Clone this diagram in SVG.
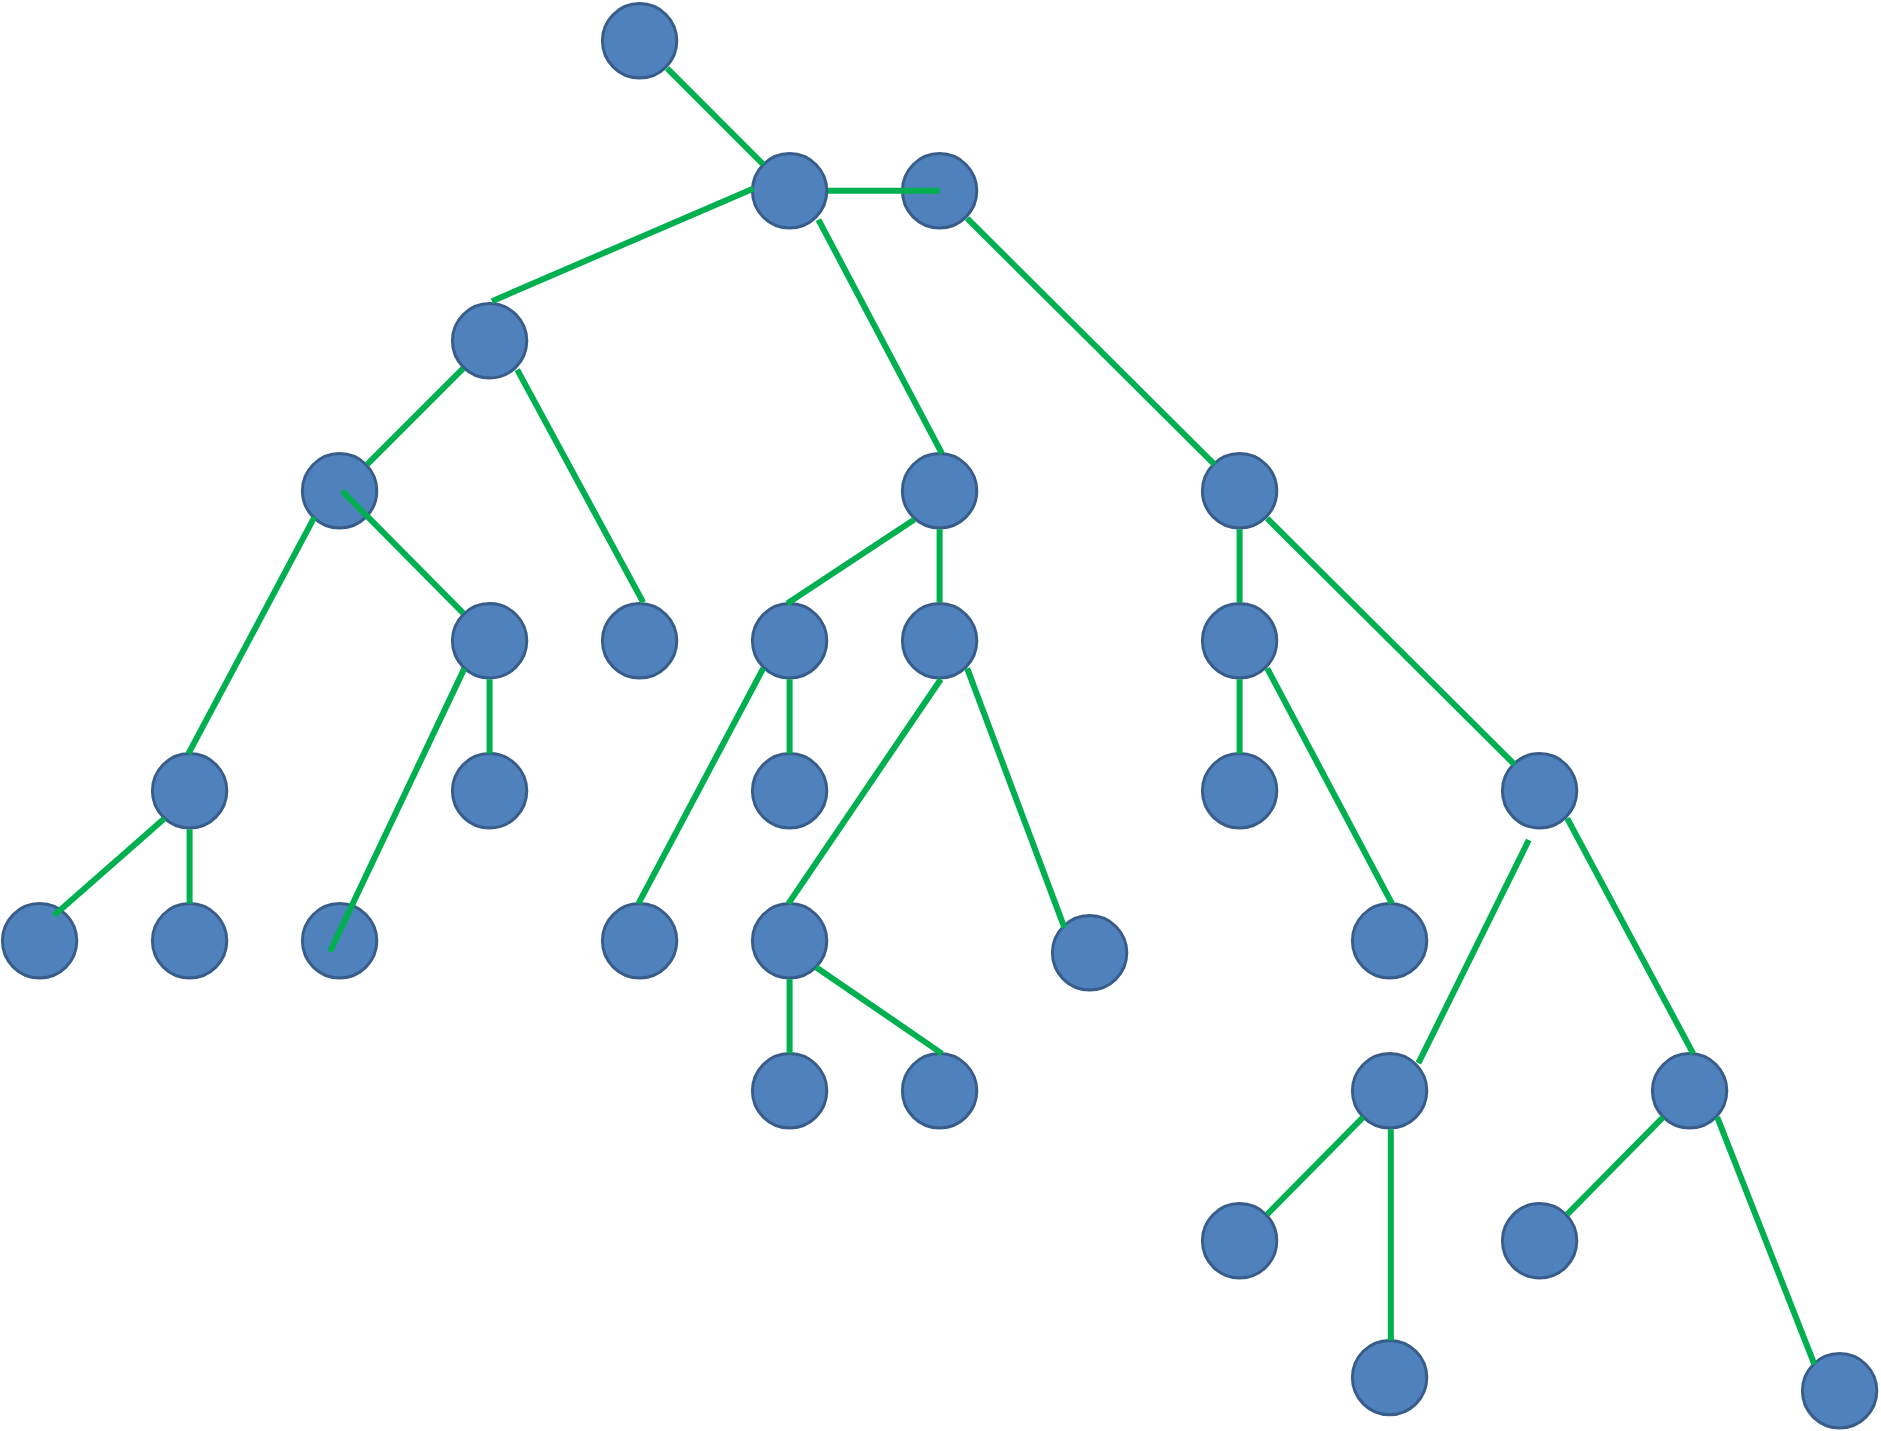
<svg xmlns="http://www.w3.org/2000/svg" width="1881" height="1431" viewBox="0 0 1881 1431">
<style>
.n{fill:#4F81BD;stroke:#385D8A;stroke-width:2.5}
.e{stroke:#00B050;stroke-width:5;fill:none}
</style>
<rect width="1881" height="1431" fill="#fff"/>
<g transform="scale(1.2)">
<g id="nodes">
<g id="n1"><circle class="n" cx="533" cy="34" r="31"/></g>
<g id="n2"><circle class="n" cx="658" cy="159" r="31"/></g>
<g id="n3"><circle class="n" cx="783" cy="159" r="31"/></g>
<g id="n4"><circle class="n" cx="408" cy="284" r="31"/></g>
<g id="n5"><circle class="n" cx="283" cy="409" r="31"/></g>
<g id="n6"><circle class="n" cx="783" cy="409" r="31"/></g>
<g id="n7"><circle class="n" cx="1033" cy="409" r="31"/></g>
<g id="n8"><circle class="n" cx="408" cy="534" r="31"/></g>
<g id="n9"><circle class="n" cx="533" cy="534" r="31"/></g>
<g id="n10"><circle class="n" cx="658" cy="534" r="31"/></g>
<g id="n11"><circle class="n" cx="783" cy="534" r="31"/></g>
<g id="n12"><circle class="n" cx="1033" cy="534" r="31"/></g>
<g id="n13"><circle class="n" cx="158" cy="659" r="31"/></g>
<g id="n14"><circle class="n" cx="408" cy="659" r="31"/></g>
<g id="n15"><circle class="n" cx="658" cy="659" r="31"/></g>
<g id="n16"><circle class="n" cx="1033" cy="659" r="31"/></g>
<g id="n17"><circle class="n" cx="1283" cy="659" r="31"/></g>
<g id="n18"><circle class="n" cx="33" cy="784" r="31"/></g>
<g id="n19"><circle class="n" cx="158" cy="784" r="31"/></g>
<g id="n20"><circle class="n" cx="283" cy="784" r="31"/></g>
<g id="n21"><circle class="n" cx="533" cy="784" r="31"/></g>
<g id="n22"><circle class="n" cx="658" cy="784" r="31"/></g>
<g id="n23"><circle class="n" cx="908" cy="794" r="31"/></g>
<g id="n24"><circle class="n" cx="1158" cy="784" r="31"/></g>
<g id="n25"><circle class="n" cx="658" cy="909" r="31"/></g>
<g id="n26"><circle class="n" cx="783" cy="909" r="31"/></g>
<g id="n27"><circle class="n" cx="1158" cy="909" r="31"/></g>
<g id="n28"><circle class="n" cx="1408" cy="909" r="31"/></g>
<g id="n29"><circle class="n" cx="1033" cy="1034" r="31"/></g>
<g id="n30"><circle class="n" cx="1283" cy="1034" r="31"/></g>
<g id="n31"><circle class="n" cx="1158" cy="1148" r="31"/></g>
<g id="n32"><circle class="n" cx="1533" cy="1159" r="31"/></g>
</g>
<g id="connectors" class="e">
<line x1="556" y1="57" x2="636" y2="137"/>
<line x1="690" y1="159" x2="783" y2="159"/>
<line x1="628" y1="157" x2="410" y2="251"/>
<line x1="682" y1="183" x2="785" y2="378"/>
<line x1="806" y1="182" x2="1012" y2="387"/>
<line x1="386" y1="307" x2="306" y2="387"/>
<line x1="431" y1="308" x2="536" y2="502"/>
<line x1="262" y1="431" x2="157" y2="628"/>
<line x1="285" y1="409" x2="386" y2="511"/>
<line x1="762" y1="433" x2="656" y2="503"/>
<line x1="783" y1="441" x2="783" y2="502"/>
<line x1="1033" y1="441" x2="1033" y2="502"/>
<line x1="1056" y1="432" x2="1262" y2="637"/>
<line x1="387" y1="557" x2="275" y2="793"/>
<line x1="408" y1="566" x2="408" y2="628"/>
<line x1="636" y1="557" x2="532" y2="753"/>
<line x1="658" y1="566" x2="658" y2="628"/>
<line x1="784" y1="566" x2="657" y2="753"/>
<line x1="806" y1="557" x2="887" y2="773"/>
<line x1="1033" y1="566" x2="1033" y2="628"/>
<line x1="1056" y1="557" x2="1160" y2="753"/>
<line x1="137" y1="682" x2="45" y2="763"/>
<line x1="158" y1="691" x2="158" y2="753"/>
<line x1="1274" y1="700" x2="1182" y2="886"/>
<line x1="1306" y1="682" x2="1411" y2="878"/>
<line x1="658" y1="816" x2="658" y2="878"/>
<line x1="680" y1="806" x2="785" y2="878"/>
<line x1="1136" y1="931" x2="1056" y2="1012"/>
<line x1="1159" y1="941" x2="1159" y2="1117"/>
<line x1="1386" y1="931" x2="1306" y2="1012"/>
<line x1="1431" y1="931" x2="1512" y2="1137"/>
</g>
</g>
</svg>
